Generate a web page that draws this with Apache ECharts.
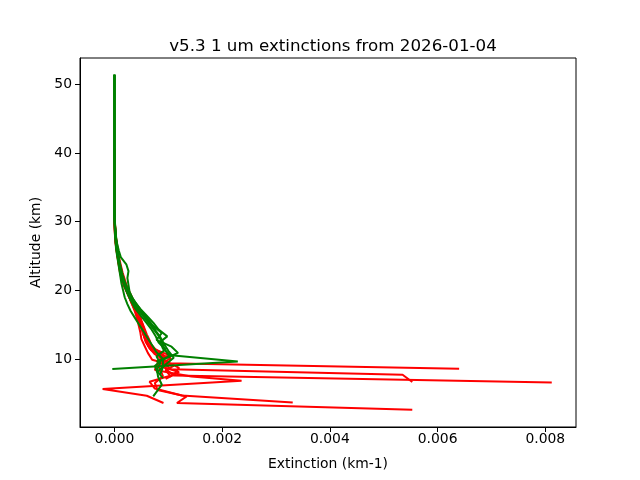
<!DOCTYPE html>
<html>
<head>
<meta charset="utf-8">
<script src="https://cdn.jsdelivr.net/npm/echarts@6/dist/echarts.min.js"></script>
<style>html,body{margin:0;padding:0;background:#fff}#c{width:640px;height:480px}</style>
</head>
<body>
<div id="c"></div>
<script>
// Tick labels
const xTicks = [0, 0.002, 0.004, 0.006, 0.008];
const yTicks = [10, 20, 30, 40, 50];

// Red profiles: [extinction (km-1), altitude (km)]
const red1 = [[0.0064,8.6],[0.00098,9.4],[0.00085,10.4],[0.00072,11.4],[0.0006,12.4],[0.00056,13.4],[0.00052,14.4],[0.00047,15.4],[0.00043,16.4],[0.00038,17.4],[0.00033,18.4],[0.00028,19.4],[0.00022,20.4],[0.00017,21.4],[0.00013,22.4],[0.0001,23.4],[0.00008,24.4],[0.00006,25.4],[0.00004,26.4],[0.00003,27.4],[0.00002,28.4],[0.00001,29.4],[0.000003,31.4],[0,33.4],[0,40.4]];
const red2 = [[0.00553,6.65],[0.00535,7.71],[0.00105,8.5],[0.0009,9.5],[0.00092,10.5],[0.00075,11.5],[0.00064,12.5],[0.00058,13.5],[0.00053,14.5],[0.0005,15.5],[0.00045,16.5],[0.0004,17.5],[0.00035,18.5],[0.00029,19.5],[0.00023,20.5],[0.00018,21.5],[0.00014,22.5],[0.00011,23.5],[0.00008,24.5],[0.00006,25.5],[0.00004,26.5],[0.00003,27.5],[0.00002,28.5],[0.00001,29.5],[0.000004,30.5],[0,32.5],[0,40.5]];
const red3 = [[0.00812,6.6],[0.0011,7.6],[0.00095,8.6],[0.00085,9.6],[0.001,10.6],[0.0007,11.6],[0.00066,12.6],[0.0006,13.6],[0.00055,14.6],[0.0005,15.6],[0.00046,16.6],[0.0004,17.6],[0.00035,18.6],[0.00029,19.6],[0.00023,20.6],[0.00019,21.6],[0.00015,22.6],[0.00012,23.6],[0.00009,24.6],[0.00007,25.6],[0.00005,26.6],[0.00003,27.6],[0.00002,28.6],[0.00001,29.6],[0,31.6],[0,40.6]];
const red4 = [[0.00091,3.59],[0.0006,4.65],[-0.00022,5.63],[0.00236,6.84],[0.00143,7.47],[0.00075,8.4],[0.0008,9.3],[0.00088,10.3],[0.00068,11.3],[0.0006,12.3],[0.00055,13.3],[0.00052,14.3],[0.00048,15.3],[0.00043,16.3],[0.00037,17.3],[0.00031,18.3],[0.00026,19.3],[0.00021,20.3],[0.00016,21.3],[0.00012,22.3],[0.00009,23.3],[0.00007,24.3],[0.00005,25.3],[0.00003,26.3],[0.00002,27.3],[0.00001,28.3],[0,30.3],[0,40.3]];
const red5 = [[0.00553,2.62],[0.00116,3.59],[0.00134,4.55],[0.0008,5.5],[0.00075,6.5],[0.0009,7.5],[0.00085,8.5],[0.0008,9.5],[0.0009,10.5],[0.00066,11.5],[0.00058,12.5],[0.00054,13.5],[0.0005,14.5],[0.00047,15.5],[0.00042,16.5],[0.00037,17.5],[0.00031,18.5],[0.00025,19.5],[0.0002,20.5],[0.00016,21.5],[0.00012,22.5],[0.00009,23.5],[0.00007,24.5],[0.00005,25.5],[0.00003,26.5],[0.00002,27.5],[0.00001,28.5],[0,30.5],[0,40.5]];
const red6 = [[0.00331,3.68],[0.00125,4.7],[0.00075,5.7],[0.00065,6.7],[0.0011,7.7],[0.0012,8.7],[0.00095,9.7],[0.00075,10.7],[0.00064,11.7],[0.00058,12.7],[0.00053,13.7],[0.0005,14.7],[0.00046,15.7],[0.00041,16.7],[0.00035,17.7],[0.00029,18.7],[0.00023,19.7],[0.00017,20.7],[0.00013,21.7],[0.0001,22.7],[0.00008,23.7],[0.00006,24.7],[0.00004,25.7],[0.00003,26.7],[0.00002,27.7],[0.00001,28.7],[0,30.7],[0,40.7]];
const red7 = [[0.00095,7.1],[0.0012,8.1],[0.0008,9.1],[0.00105,10.1],[0.00072,11.1],[0.00062,12.1],[0.0006,13.1],[0.00056,14.1],[0.00052,15.1],[0.00047,16.1],[0.00042,17.1],[0.00036,18.1],[0.0003,19.1],[0.00024,20.1],[0.00019,21.1],[0.00015,22.1],[0.00011,23.1],[0.00008,24.1],[0.00006,25.1],[0.00004,26.1],[0.00002,27.1],[0.00001,28.1],[0,30.1],[0,40.1]];
const red8 = [[0.00105,7.4],[0.00095,8.4],[0.0011,9.0],[0.0007,9.9],[0.00062,10.9],[0.00056,11.9],[0.0005,12.9],[0.00048,13.9],[0.00045,14.9],[0.00042,15.9],[0.00038,16.9],[0.00033,17.9],[0.00028,18.9],[0.00023,19.9],[0.00018,20.9],[0.00014,21.9],[0.00011,22.9],[0.00008,23.9],[0.00006,24.9],[0.00004,25.9],[0.00002,26.9],[0.00001,27.9],[0,29.9],[0,40.2]];

// Green profiles
const green1 = [[-0.00004,8.54],[0.00229,9.65],[0.001,10.6],[0.00092,11.6],[0.00088,12.6],[0.0008,13.6],[0.0007,14.6],[0.0006,15.6],[0.0005,16.6],[0.0004,17.6],[0.00031,18.6],[0.00024,19.6],[0.00019,20.6],[0.00015,21.6],[0.00012,22.6],[0.00009,23.6],[0.00007,24.6],[0.00005,25.6],[0.00003,26.6],[0.00002,27.6],[0.00001,28.6],[0,30.6],[0,40.6],[0,51.4]];
const green2 = [[0.00072,4.55],[0.00088,6.26],[0.00081,7.42],[0.00079,8.44],[0.00085,9.4],[0.00078,10.4],[0.00095,11.4],[0.00082,12.4],[0.00076,13.4],[0.00068,14.4],[0.00058,15.4],[0.00048,16.4],[0.00038,17.4],[0.00031,18.4],[0.00025,19.4],[0.0002,20.4],[0.00016,21.4],[0.00013,22.4],[0.0001,23.4],[0.00008,24.4],[0.00006,25.4],[0.00004,26.4],[0.00003,27.4],[0.00002,28.4],[0.00001,29.4],[0,31.4],[0,51.4]];
const green3 = [[0.00085,7.8],[0.0009,8.8],[0.0009,9.9],[0.00118,10.9],[0.00106,11.8],[0.00078,12.8],[0.00088,13.8],[0.00072,14.8],[0.00062,15.8],[0.00052,16.8],[0.00043,17.8],[0.00034,18.8],[0.00028,19.8],[0.00026,20.8],[0.00024,21.8],[0.00026,22.8],[0.00022,23.8],[0.00012,24.8],[0.00008,25.8],[0.00005,26.8],[0.00003,27.8],[0.00002,28.8],[0.00001,29.8],[0,31.8],[0,51.4]];
const green4 = [[0.0009,7.2],[0.0008,8.2],[0.00095,9.2],[0.0011,10.2],[0.001,11.2],[0.00092,12.2],[0.00085,13.2],[0.00076,14.2],[0.00066,15.2],[0.00055,16.2],[0.00045,17.2],[0.00035,18.2],[0.00028,19.2],[0.00022,20.2],[0.00017,21.2],[0.00014,22.2],[0.00011,23.2],[0.00008,24.2],[0.00006,25.2],[0.00004,26.2],[0.00003,27.2],[0.00002,28.2],[0.00001,29.2],[0,31.2],[0,51.4]];
const green5 = [[0.0008,8.0],[0.00075,9.0],[0.0009,10.0],[0.00078,11.0],[0.0007,12.0],[0.00062,13.0],[0.00054,14.0],[0.00046,15.0],[0.00038,16.0],[0.0003,17.0],[0.00024,18.0],[0.00019,19.0],[0.00016,20.0],[0.00013,21.0],[0.00011,22.0],[0.00009,23.0],[0.00007,24.0],[0.00005,25.0],[0.00003,26.0],[0.00002,27.0],[0.00001,28.0],[0,30.0],[0,51.4]];
const green6 = [[0.00078,9.6],[0.00105,10.5],[0.0009,11.5],[0.00085,12.5],[0.00098,13.3],[0.00082,14.3],[0.00072,15.3],[0.0006,16.3],[0.00048,17.3],[0.00038,18.3],[0.0003,19.3],[0.00024,20.3],[0.00019,21.3],[0.00015,22.3],[0.00012,23.3],[0.00009,24.3],[0.00007,25.3],[0.00005,26.3],[0.00003,27.3],[0.00002,28.3],[0.00001,29.3],[0,31.3],[0,51.4]];

const redProfiles = [red1, red2, red3, red4, red5, red6, red7, red8];
const greenProfiles = [green1, green2, green3, green4, green5, green6];

const FONT = 'DejaVu Sans';
function mk(data, color) {
  return {type:'line', data:data, showSymbol:false, symbol:'none', animation:false,
    lineStyle:{color:color, width:2}, itemStyle:{color:color}};
}
const series = [];
redProfiles.forEach(p => series.push(mk(p, '#ff0000')));
greenProfiles.forEach(p => series.push(mk(p, '#008000')));

const chart = echarts.init(document.getElementById('c'), null, {renderer:'canvas'});
chart.setOption({
  animation:false,
  backgroundColor:'#ffffff',
  title:{text:'v5.3 1 um extinctions from 2026-01-04', left:328, top:33, textAlign:'center',
    textStyle:{fontFamily:FONT, fontSize:16.7, fontWeight:'normal', color:'#000'}},
  grid:{left:80, right:64, top:58, bottom:53, show:true, borderColor:'#000', borderWidth:1, backgroundColor:'transparent'},
  xAxis:{type:'value', min:-0.00064, max:0.00857,
    name:'Extinction (km-1)', nameLocation:'middle', nameGap:30,
    nameTextStyle:{fontFamily:FONT, fontSize:13.9, color:'#000'},
    axisLine:{show:true, onZero:false, lineStyle:{color:'#000', width:1}},
    axisTick:{show:true, length:5, customValues:xTicks, lineStyle:{color:'#000'}},
    axisLabel:{customValues:xTicks, fontFamily:FONT, fontSize:13.9, color:'#000', margin:5,
      formatter:v => v.toFixed(3)},
    splitLine:{show:false}},
  yAxis:{type:'value', min:0.1, max:53.85,
    name:'Altitude (km)', nameLocation:'middle', nameGap:34, nameRotate:90,
    nameTextStyle:{fontFamily:FONT, fontSize:13.9, color:'#000'},
    axisLine:{show:true, onZero:false, lineStyle:{color:'#000', width:1}},
    axisTick:{show:true, length:5, customValues:yTicks, lineStyle:{color:'#000'}},
    axisLabel:{customValues:yTicks, fontFamily:FONT, fontSize:13.9, color:'#000', margin:8,
      formatter:v => String(v)},
    splitLine:{show:false}},
  series:series
});
</script>
</body>
</html>
